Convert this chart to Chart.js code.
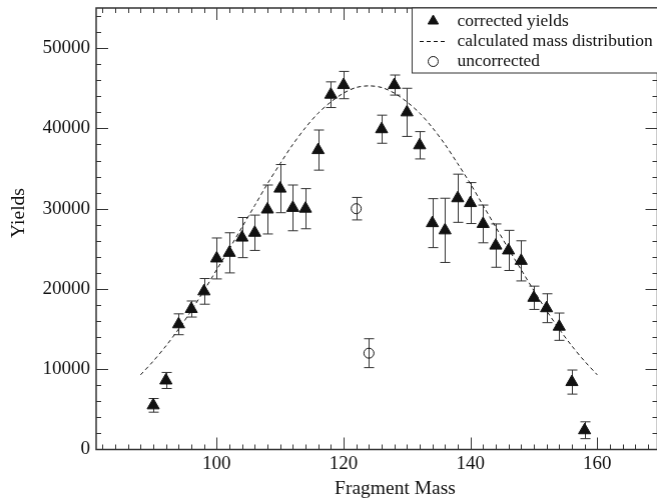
<!DOCTYPE html>
<html>
<head>
<meta charset="utf-8">
<script src="https://cdn.jsdelivr.net/npm/chart.js@4.4.0/dist/chart.umd.min.js"></script>
<style>
  html, body { margin: 0; padding: 0; background: #fff; overflow: hidden; }
  #wrap { width: 720px; height: 499px; }
  canvas { display: block; }
</style>
</head>
<body>
<div id="wrap"><canvas id="chart" width="657" height="499"></canvas></div>
<script>
// corrected yields (triangles) with symmetric errors
const massCorrected  = [90, 92, 94, 96, 98, 100, 102, 104, 106, 108, 110, 112, 114, 116, 118, 120, 126, 128, 130, 132, 134, 136, 138, 140, 142, 144, 146, 148, 150, 152, 154, 156, 158];
const yieldCorrected = [5500, 8600, 15600, 17500, 19700, 23800, 24500, 26400, 27000, 29900, 32500, 30100, 30000, 37300, 44200, 45400, 39900, 45400, 42000, 37900, 28200, 27300, 31300, 30700, 28100, 25400, 24800, 23500, 18900, 17600, 15300, 8400, 2400];
const errCorrected   = [850, 1000, 1300, 1000, 1600, 2550, 2500, 2500, 2200, 3050, 3000, 2850, 2500, 2500, 1600, 1700, 1750, 1250, 3000, 1700, 3050, 4000, 3000, 2550, 2350, 2700, 2500, 2500, 1450, 1800, 1700, 1500, 1050];

// uncorrected (open circles)
const massUncorr  = [122, 124];
const yieldUncorr = [30000, 12000];
const errUncorr   = [1400, 1800];

// calculated mass distribution (dashed curve)
const curveMass  = [88, 90, 92, 94, 96, 98, 100, 102, 104, 106, 108, 110, 112, 114, 116, 118, 120, 122, 124, 126, 128, 130, 132, 134, 136, 138, 140, 142, 144, 146, 148, 150, 152, 154, 156, 158, 160];
const curveYield = [9300, 11000, 12900, 15000, 17300, 19800, 22400, 25000, 27700, 30400, 33100, 35600, 38000, 40100, 41900, 43300, 44400, 45100, 45300, 45100, 44400, 43300, 41900, 40100, 38000, 35600, 33100, 30400, 27700, 25000, 22400, 19800, 17300, 15000, 12900, 11000, 9300];

const xTicks = [100, 120, 140, 160];
const yTicks = [0, 10000, 20000, 30000, 40000, 50000];

const FONT = "'Liberation Serif', 'Times New Roman', serif";
const INK = "#111";
const W = 657, H = 499, PLOT_RIGHT = 656.5;

const pts = (xs, ys) => xs.map((v, i) => ({ x: v, y: ys[i] }));

const decor = {
  id: "decor",
  beforeDatasetsDraw(chart) {
    const { ctx, scales: { x, y } } = chart;
    ctx.save();
    ctx.strokeStyle = "#333";
    ctx.lineWidth = 1;
    const bars = (ms, ys, es) => ms.forEach((m, i) => {
      const px = Math.round(x.getPixelForValue(m)) + 0.5;
      const t = y.getPixelForValue(ys[i] + es[i]);
      const b = y.getPixelForValue(ys[i] - es[i]);
      ctx.beginPath();
      ctx.moveTo(px, t); ctx.lineTo(px, b);
      ctx.moveTo(px - 5, t); ctx.lineTo(px + 5, t);
      ctx.moveTo(px - 5, b); ctx.lineTo(px + 5, b);
      ctx.stroke();
    });
    bars(massCorrected, yieldCorrected, errCorrected);
    bars(massUncorr, yieldUncorr, errUncorr);
    ctx.restore();
  },
  afterDraw(chart) {
    const { ctx, chartArea: a, scales: { x, y } } = chart;
    ctx.save();
    ctx.strokeStyle = "#333";
    ctx.lineWidth = 1;
    // inward ticks on all four sides
    ctx.beginPath();
    for (let v = 82; v <= 168; v += 2) {
      const px = Math.round(x.getPixelForValue(v)) + 0.5;
      const len = v % 20 === 0 ? 12 : 5;
      ctx.moveTo(px, a.bottom); ctx.lineTo(px, a.bottom - len);
      ctx.moveTo(px, a.top); ctx.lineTo(px, a.top + len);
    }
    for (let v = 2000; v <= 54000; v += 2000) {
      const py = Math.round(y.getPixelForValue(v)) + 0.5;
      const len = v % 10000 === 0 ? 12 : 5;
      ctx.moveTo(a.left, py); ctx.lineTo(a.left + len, py);
      ctx.moveTo(a.right, py); ctx.lineTo(a.right - len, py);
    }
    ctx.stroke();
    ctx.lineWidth = 1.5;
    ctx.strokeRect(a.left, a.top, a.right - a.left, a.bottom - a.top);

    // legend box
    const lx = 411.5, ly = a.top, lw = a.right - lx, lh = 65;
    ctx.fillStyle = "#fff";
    ctx.fillRect(lx, ly, lw, lh);
    ctx.lineWidth = 1;
    ctx.strokeRect(lx, ly, lw, lh);
    ctx.fillStyle = INK;
    ctx.strokeStyle = INK;
    Chart.helpers.drawPoint(ctx, { pointStyle: "triangle", radius: 6, rotation: 0, borderWidth: 1 }, 432.5, 21);
    ctx.beginPath();
    ctx.setLineDash([4, 3]);
    ctx.moveTo(419, 41.5); ctx.lineTo(446, 41.5);
    ctx.stroke();
    ctx.setLineDash([]);
    ctx.beginPath();
    ctx.arc(432.5, 61.5, 5, 0, Math.PI * 2);
    ctx.stroke();
    ctx.font = `17.5px ${FONT}`;
    ctx.textBaseline = "middle";
    ctx.textAlign = "left";
    ctx.fillText("corrected yields", 456.5, 21);
    ctx.fillText("calculated mass distribution", 456.5, 41.5);
    ctx.fillText("uncorrected", 456.5, 61.5);

    // axis titles
    ctx.font = `19.5px ${FONT}`;
    ctx.textAlign = "center";
    ctx.textBaseline = "alphabetic";
    ctx.fillText("Fragment Mass", 394.5, 494);
    ctx.translate(24, 213);
    ctx.rotate(-Math.PI / 2);
    ctx.fillText("Yields", 0, 0);
    ctx.restore();
  }
};

const chart = new Chart(document.getElementById("chart"), {
  type: "scatter",
  data: {
    datasets: [
      { label: "calculated mass distribution", type: "line", data: pts(curveMass, curveYield),
        borderColor: INK, borderWidth: 1, borderDash: [4, 3], pointRadius: 0, fill: false, tension: 0.3 },
      { label: "corrected yields", data: pts(massCorrected, yieldCorrected),
        pointStyle: "triangle", pointRadius: 7, backgroundColor: INK, borderColor: INK, borderWidth: 1 },
      { label: "uncorrected", data: pts(massUncorr, yieldUncorr),
        pointStyle: "circle", pointRadius: 5, backgroundColor: "rgba(0,0,0,0)", borderColor: INK, borderWidth: 1 },
    ],
  },
  options: {
    responsive: false,
    maintainAspectRatio: false,
    animation: false,
    layout: { padding: { top: 8, right: 0.5, left: 0, bottom: 0 } },
    plugins: { legend: { display: false }, tooltip: { enabled: false } },
    scales: {
      x: {
        type: "linear", min: 81, max: 169.5,
        grid: { display: false, drawTicks: false }, border: { display: false },
        afterBuildTicks: s => { s.ticks = xTicks.map(v => ({ value: v })); },
        afterFit: s => { s.height = 49.5; s.paddingLeft = 0; s.paddingRight = 0; },
        ticks: { padding: 3, color: INK, font: { family: FONT, size: 19 }, callback: v => String(v), maxRotation: 0 },
      },
      y: {
        type: "linear", min: 0, max: 55000,
        grid: { display: false, drawTicks: false }, border: { display: false },
        afterBuildTicks: s => { s.ticks = yTicks.map(v => ({ value: v })); },
        afterFit: s => { s.width = 96; s.paddingTop = 0; s.paddingBottom = 0; },
        ticks: { padding: 6, color: INK, font: { family: FONT, size: 19 }, callback: v => String(v) },
      },
    },
  },
  plugins: [decor],
});

// the layout keeps a few px free on the right; widen the canvas past the window
// (its overflow is clipped) until the plot frame sits at the right edge
for (let i = 0; i < 3; i++) {
  const gap = PLOT_RIGHT - chart.chartArea.right;
  if (Math.abs(gap) < 0.25) break;
  chart.resize(chart.width + gap, H);
}
</script>
</body>
</html>
